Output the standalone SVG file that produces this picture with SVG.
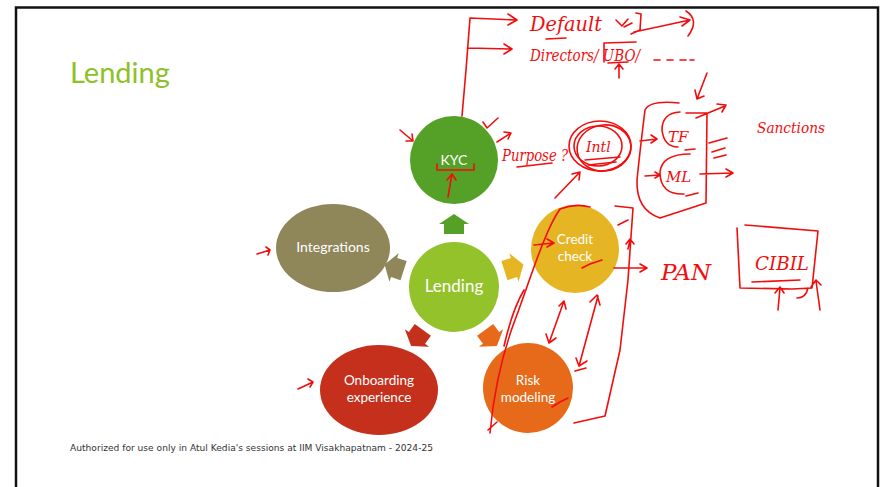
<svg xmlns="http://www.w3.org/2000/svg" width="882" height="487" viewBox="0 0 882 487">
<defs>
<style>
.frame{fill:none;stroke:#111;stroke-width:2.5}
.lbl{fill:#fff;font-family:Lato,"Open Sans",sans-serif;text-anchor:middle}
.ink{fill:none;stroke:#f20d0d;stroke-width:1.6;stroke-linecap:round;stroke-linejoin:round}
.hw{fill:#f20d0d;font-family:"DejaVu Serif",serif;font-style:italic}
</style>
<polygon id="arw" points="0,-73 15,-63 10,-63 10,-53 -10,-53 -10,-63 -15,-63"/>
</defs>
<rect x="0" y="0" width="882" height="487" fill="#fff"/>
<path class="frame" d="M16 487 V7.5 H878 V487"/>
<text x="70" y="83" font-family="Lato,sans-serif" font-size="29" fill="#8dc127">Lending</text>

<g id="connectors">
<use href="#arw" transform="translate(454,287)" fill="#55a128"/>
<use href="#arw" transform="translate(454,287) rotate(72)" fill="#e5b523"/>
<use href="#arw" transform="translate(454,287) rotate(144)" fill="#e66a1a"/>
<use href="#arw" transform="translate(454,287) rotate(216)" fill="#c4301b"/>
<use href="#arw" transform="translate(454,287) rotate(288)" fill="#8f865a"/>
</g>

<g id="node-lending"><circle cx="454" cy="287" r="45" fill="#93c22a"/><text class="lbl" x="454" y="292" font-size="17">Lending</text></g>
<g id="node-kyc"><circle cx="454" cy="160" r="44" fill="#55a128"/><text class="lbl" x="454" y="165" font-size="14">KYC</text></g>
<g id="node-credit"><circle cx="575" cy="249" r="44" fill="#e5b523"/><text class="lbl" font-size="13.5"><tspan x="575" y="244">Credit</tspan><tspan x="575" y="260.5">check</tspan></text></g>
<g id="node-risk"><circle cx="528" cy="388" r="45" fill="#e66a1a"/><text class="lbl" font-size="13.5"><tspan x="528" y="385">Risk</tspan><tspan x="528" y="401.5">modeling</tspan></text></g>
<g id="node-onboarding"><ellipse cx="379" cy="390" rx="59" ry="45" fill="#c4301b"/><text class="lbl" font-size="13.5"><tspan x="379" y="385">Onboarding</tspan><tspan x="379" y="401.5">experience</tspan></text></g>
<g id="node-integrations"><ellipse cx="333" cy="248" rx="57" ry="44" fill="#8f865a"/><text class="lbl" x="333" y="252" font-size="14">Integrations</text></g>

<text x="70" y="451" font-family="'DejaVu Sans',sans-serif" font-size="9" fill="#333" textLength="363" lengthAdjust="spacingAndGlyphs">Authorized for use only in Atul Kedia's sessions at IIM Visakhapatnam - 2024-25</text>

<g id="annotations">
<path class="ink" d="M462 116 L466 70 L470 18 L516 20 M508 14 L517 20 L508 25 M468 48 L511 49 M504 44 L512 49 L504 54"/>
<text class="hw" x="530" y="31" font-size="21" textLength="72" lengthAdjust="spacingAndGlyphs">Default</text>
<path class="ink" d="M546 39 L566 38 M616 20 L622 26 L628 19 M624 27 L632 23 M636 13 L641 14 L640 30 L631 34 M634 32 L690 20 M680 17 L690 20 L682 26 M686 11 Q700 20 688 36"/>
<text class="hw" x="530" y="61" font-size="16" textLength="110" lengthAdjust="spacingAndGlyphs">Directors/ UBO/</text>
<path class="ink" d="M604 43 L636 42 M604 43 L604 62 M608 63 L628 62 M619 78 L619 65 M615 69 L619 64 L623 69 M654 60 L660 60 M667 60 L673 60 M680 60 L686 60 M690 60 L694 60"/>
<path class="ink" d="M400 130 L413 141 M406 141 L413 141 L412 134 M483 122 L487 128 L498 118 M497 142 L511 133 M504 132 L511 133 L508 139 M437 164 L437 170 L474 170 L474 164 M448 197 L452 174 M447 180 L452 174 L456 180"/>
<text class="hw" x="502" y="161" font-size="16" textLength="66" lengthAdjust="spacingAndGlyphs">Purpose ?</text>
<path class="ink" d="M517 167 L552 163"/>
<ellipse class="ink" cx="600" cy="146" rx="31" ry="25"/>
<ellipse class="ink" cx="604" cy="148" rx="27" ry="23" transform="rotate(-8 604 148)"/>
<ellipse class="ink" cx="598" cy="146" rx="24" ry="20"/>
<text class="hw" x="586" y="152" font-size="14">Intl</text>
<path class="ink" d="M585 160 L620 157 M588 165 L616 162 M555 198 L580 172 M572 174 L580 172 L579 180"/>
<path class="ink" d="M679 103 Q650 100 645 110 Q640 150 637 180 Q636 210 660 218 L706 203 L707 113 L686 113 M680 112 Q662 113 662 130 Q664 147 678 147 M685 150 L695 149 M690 154 Q662 154 660 172 Q660 195 684 194 M686 196 L698 193 M640 141 L657 139 M651 135 L657 139 L651 143 M645 176 L660 175 M655 172 L660 175 L655 178 M696 118 L725 106 M717 104 L726 105 L722 112 M709 143 L727 138 M712 152 L725 148 M714 158 L726 155 M700 174 L733 173 M726 169 L733 173 L726 177 M707 73 L697 99 M695 90 L697 99 L704 96"/>
<text class="hw" x="668" y="142" font-size="15">TF</text>
<text class="hw" x="666" y="182" font-size="15">ML</text>
<text class="hw" x="757" y="133" font-size="15" textLength="68" lengthAdjust="spacingAndGlyphs">Sanctions</text>
<path class="ink" d="M490 433 C493 400 500 360 515 320 C530 280 545 230 560 209 Q575 203 590 207 M488 430 L497 422 M504 346 C510 320 518 300 524 290"/>
<path class="ink" d="M534 245 L553 243 M547 239 L554 243 L547 247 M582 268 L590 264 L602 260 M552 407 L560 402 L568 398"/>
<path class="ink" d="M615 206 L633 208 L628 280 L620 350 L605 416 L574 423 M618 225 L628 220 M628 249 L630 240 M626 244 L630 239 L634 244"/>
<path class="ink" d="M614 268 L647 268 M640 264 L647 268 L640 272"/>
<text class="hw" x="661" y="280" font-size="22" textLength="50" lengthAdjust="spacingAndGlyphs">PAN</text>
<path class="ink" d="M549 343 L564 301 M546 334 L549 343 L556 338 M559 306 L564 301 L566 309 M598 296 L579 366 M590 302 L597 295 L600 305 M576 358 L579 366 L587 361 M575 371 L586 368"/>
<path class="ink" d="M745 225 L818 231 L812 288 L792 289 L740 288 L737 228 M752 282 L800 280 M778 310 L780 288 M775 293 L780 287 L784 293 M797 298 Q806 298 808 288 M820 310 L816 281 M811 287 L816 280 L821 285"/>
<text class="hw" x="755" y="270" font-size="19" textLength="54" lengthAdjust="spacingAndGlyphs">CIBIL</text>
<path class="ink" d="M257 254 L270 250 M266 247 L270 250 L268 255 M298 389 L313 382 M308 379 L313 382 L310 387"/>
</g>
</svg>
